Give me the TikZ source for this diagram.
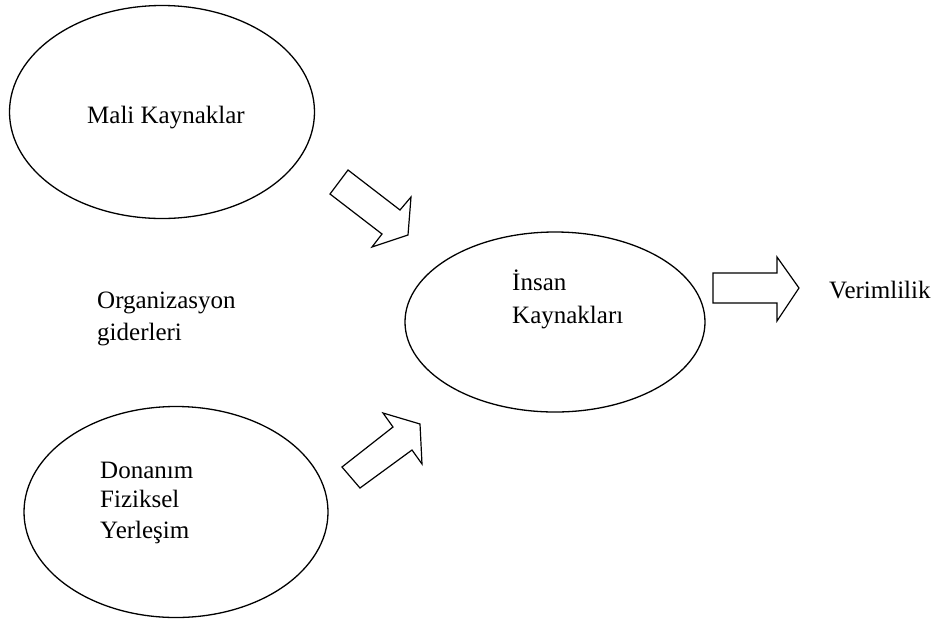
\documentclass[tikz,border=0pt]{standalone}
\usepackage{fontspec}
\setmainfont{Liberation Serif}
\usetikzlibrary{shapes.geometric}
\begin{document}
\begin{tikzpicture}[x=1pt,y=-1pt,
  blob/.style={ellipse,draw,line width=1.3pt,inner sep=0pt,outer sep=0pt},
  lbl/.style={inner sep=0pt,anchor=base west,font=\fontsize{25}{30}\selectfont},
  blockarrow/.style={draw,line width=1.2pt,line join=miter,fill=white}]
\useasboundingbox[fill=white] (0,0) rectangle (938,625);
% ellipses
\node[blob,minimum width=305pt,minimum height=213pt] (mali) at (162,112) {};
\node[blob,minimum width=304pt,minimum height=211pt] (donanim) at (176,512) {};
\node[blob,minimum width=300pt,minimum height=180pt] (insan) at (555,322) {};
% texts
\node[lbl,anchor=base] (t1) at (166,123) {Mali Kaynaklar};
\node[lbl] (t2) at (97,308) {Organizasyon};
\node[lbl] (t3) at (97,340) {giderleri};
\node[lbl] (t4) at (100,478) {Donanım};
\node[lbl] (t5) at (100,507) {Fiziksel};
\node[lbl] (t6) at (100,538) {Yerleşim};
\node[lbl] (t7) at (512,290) {İnsan};
\node[lbl] (t8) at (512,323) {Kaynakları};
\node[lbl] (verim) at (829,298) {Verimlilik};
% block arrows
\draw[blockarrow] (348,170) -- (400,210) -- (411,197) -- (408,235) -- (372,247) -- (382,234) -- (330,194) -- cycle;
\draw[blockarrow] (342,467) -- (393,427) -- (383,413) -- (420,424) -- (422,464) -- (412,450) -- (360,488) -- cycle;
\draw[blockarrow] (713,273) -- (777,273) -- (777,257) -- (799,288) -- (777,321) -- (777,303) -- (713,303) -- cycle;
\end{tikzpicture}
\end{document}
